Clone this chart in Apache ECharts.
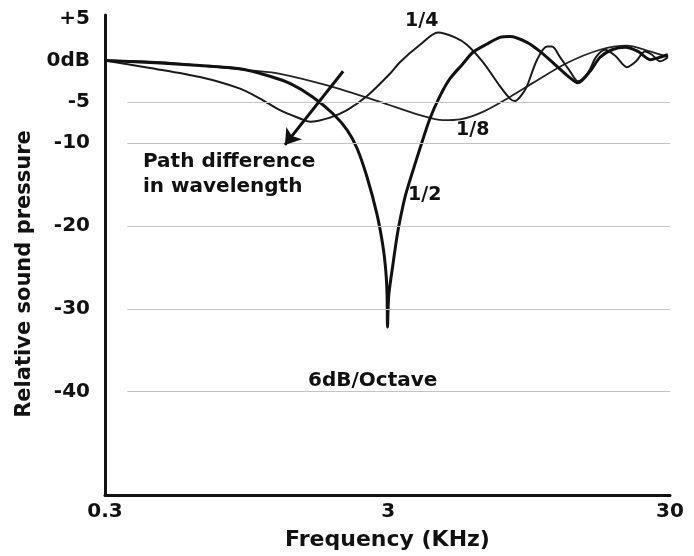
<!DOCTYPE html>
<html>
<head>
<meta charset="utf-8">
<script src="https://cdn.jsdelivr.net/npm/echarts@6/dist/echarts.min.js"></script>
<style>
  html, body { margin: 0; padding: 0; background: #fff; }
  #main { width: 694px; height: 556px; }
</style>
</head>
<body>
<div id="main"></div>
<script>
// frequency (kHz) and relative level (dB)
var freqHalf = [0.3, 0.47, 0.65, 0.9, 1.15, 1.36, 1.63, 1.92, 2.16, 2.34, 2.54, 2.75, 2.89, 2.96, 2.99, 3.0,
  3.03, 3.14, 3.24, 3.32, 3.46, 3.6, 3.91, 4.24, 4.6, 4.99, 5.51, 6.02, 6.75, 7.5, 8.14, 9.35, 10.4,
  11.75, 12.96, 14.17, 15.63, 16.96, 18.7, 20.8, 23.1, 25.5, 27.65, 29.5]
var dbHalf = [0, -0.3, -0.6, -1.0, -1.9, -2.8, -4.4, -6.4, -8.4, -10.6, -14.1, -18.5, -22.4, -25.5, -28.4, -32.2,
  -28.4, -24.5, -21.3, -19.3, -16.5, -14.5, -10.6, -7.0, -4.3, -2.2, -0.5, 1.0, 2.0, 2.8, 2.9, 2.2, 1.1,
  -0.5, -1.8, -2.7, -1.3, 0.4, 1.3, 1.6, 1.1, 0.1, 0.4, 0.7]

var freqQuarter = [0.3, 0.433, 0.651, 0.902, 1.061, 1.249, 1.47, 1.595, 1.878, 2.157, 2.538, 3.061, 3.32, 3.91,
  4.53, 5.2, 5.73, 6.53, 7.5, 8.14, 8.48, 8.98, 9.35, 10.15, 11.01, 11.47, 12.24, 13.28, 14.17, 15.37,
  16.41, 17.66, 19.16, 21.13, 22.74, 24.47, 25.91, 27.65, 29.5]
var dbQuarter = [0, -0.9, -2.0, -3.4, -4.6, -6.0, -7.0, -7.4, -6.9, -6.0, -4.3, -1.6, -0.2, 1.9,
  3.4, 2.8, 1.9, -0.2, -3.1, -4.6, -4.9, -4.1, -3.1, 0.1, 1.7, 1.7, 0.4, -1.3, -2.5, -1.5,
  0.4, 1.3, 0.6, -0.8, -0.1, 1.1, 0.7, -0.1, 0.4]

var freqEighth = [0.3, 0.47, 0.65, 0.98, 1.25, 1.88, 2.82, 3.91, 4.72, 5.42, 6.53, 8.14, 9.82, 12.96, 16.96, 21.13, 25.49, 29.5]
var dbEighth = [0, -0.2, -0.6, -1.2, -1.6, -3.1, -5.0, -6.6, -7.2, -7.1, -6.2, -4.4, -2.7, -0.3, 1.3, 1.8, 1.1, 0.4]

var yTicks = [5, 0, -5, -10, -20, -30, -40]
var yTickText = ['+5', '0dB', '-5', '-10', '-20', '-30', '-40']
var gridDb = [-5, -10, -20, -30, -40]
var arrowFrom = [2.09, -1.3]
var arrowTo = [1.3, -10.2]

function pairs(xs, ys) {
  return xs.map(function (x, i) { return [x, ys[i]] })
}

var font = 'DejaVu Sans'
var chart = echarts.init(document.getElementById('main'))

var option = {
  animation: false,
  backgroundColor: '#fff',
  textStyle: { fontFamily: font, fontWeight: 'bold', color: '#111' },
  grid: { left: 105, right: 24, top: 15, bottom: 54 },
  xAxis: [
    {
      type: 'log',
      logBase: 10,
      min: 0.3,
      max: 30,
      position: 'bottom',
      axisLine: { onZero: false, lineStyle: { color: '#111', width: 3 } },
      axisTick: { show: false },
      axisLabel: { show: false },
      splitLine: { show: false }
    },
    {
      // only carries the 0.3 / 3 / 30 labels, same span as the log axis
      type: 'value',
      min: Math.log10(0.3),
      max: Math.log10(30),
      interval: 1,
      position: 'bottom',
      axisLine: { show: false },
      axisTick: { show: false },
      splitLine: { show: false },
      axisLabel: {
        margin: 7,
        fontSize: 20,
        fontFamily: font,
        fontWeight: 'bold',
        color: '#111',
        formatter: function (v) { return String(parseFloat(Math.pow(10, v).toPrecision(2))) }
      },
      name: 'Frequency (KHz)',
      nameLocation: 'middle',
      nameGap: 34,
      nameTextStyle: { fontSize: 22, fontFamily: font, fontWeight: 'bold', color: '#111' }
    }
  ],
  yAxis: {
    type: 'value',
    min: -52.5,
    max: 5.5,
    interval: 2.5,
    axisLine: { onZero: false, lineStyle: { color: '#111', width: 3 } },
    axisTick: { show: false },
    splitLine: { show: false },
    axisLabel: {
      margin: 15,
      fontSize: 20,
      fontFamily: font,
      fontWeight: 'bold',
      color: '#111',
      formatter: function (v) {
        for (var i = 0; i < yTicks.length; i++) {
          if (Math.abs(v - yTicks[i]) < 0.01) return yTickText[i]
        }
        return ''
      }
    },
    name: 'Relative sound pressure',
    nameLocation: 'middle',
    nameGap: 70,
    nameTextStyle: { fontSize: 21, fontFamily: font, fontWeight: 'bold', color: '#111', padding: [0, 38, 0, 0] }
  },
  series: [
    {
      name: '1/8',
      type: 'line',
      data: pairs(freqEighth, dbEighth),
      showSymbol: false,
      smooth: 0.3,
      lineStyle: { color: '#222', width: 1.8 },
      z: 2,
      markLine: {
        silent: true,
        symbol: ['none', 'none'],
        label: { show: false },
        lineStyle: { color: '#c4c4c4', width: 1, type: 'solid' },
        data: gridDb.map(function (v) { return [{ coord: [0.36, v] }, { coord: [30, v] }] })
      }
    },
    {
      name: '1/4',
      type: 'line',
      data: pairs(freqQuarter, dbQuarter),
      showSymbol: false,
      smooth: 0.3,
      lineStyle: { color: '#1a1a1a', width: 2 },
      z: 3
    },
    {
      name: '1/2',
      type: 'line',
      data: pairs(freqHalf, dbHalf),
      showSymbol: false,
      smooth: 0.25,
      lineStyle: { color: '#111', width: 3 },
      z: 4,
      markLine: {
        silent: true,
        symbol: ['none', 'arrow'],
        symbolSize: 15,
        label: { show: false },
        lineStyle: { color: '#111', width: 3, type: 'solid' },
        data: [[{ coord: arrowFrom }, { coord: arrowTo }]]
      }
    }
  ],
  graphic: [
    { type: 'text', left: 405, top: 12, style: { text: '1/4', font: 'bold 19px "DejaVu Sans"', fill: '#111' } },
    { type: 'text', left: 456, top: 121, style: { text: '1/8', font: 'bold 19px "DejaVu Sans"', fill: '#111' } },
    { type: 'text', left: 408, top: 186, style: { text: '1/2', font: 'bold 19px "DejaVu Sans"', fill: '#111' } },
    { type: 'text', left: 308, top: 371, style: { text: '6dB/Octave', font: 'bold 20px "DejaVu Sans"', fill: '#111' } },
    { type: 'text', left: 143, top: 152, style: { text: 'Path difference', font: 'bold 20px "DejaVu Sans"', fill: '#111' } },
    { type: 'text', left: 143, top: 177, style: { text: 'in wavelength', font: 'bold 20px "DejaVu Sans"', fill: '#111' } }
  ]
}

chart.setOption(option)
</script>
</body>
</html>
